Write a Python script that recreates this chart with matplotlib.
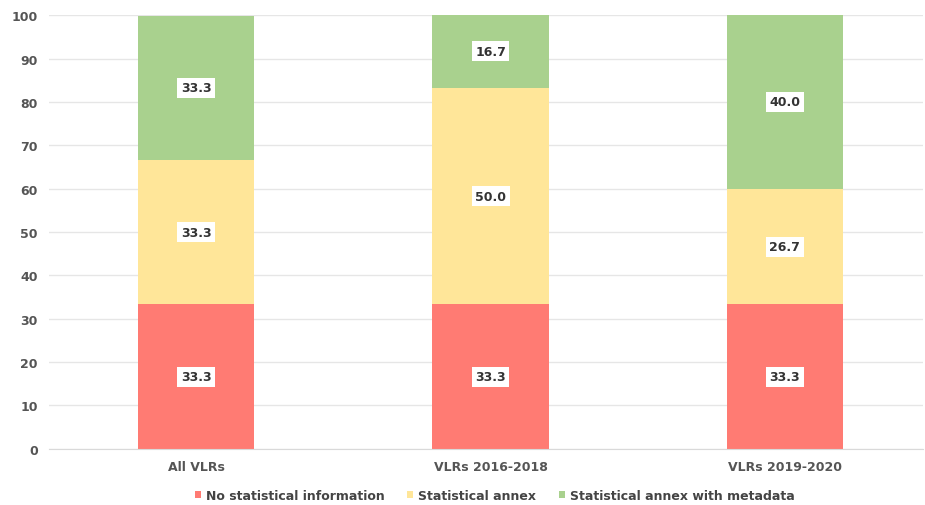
import numpy as np
import matplotlib.pyplot as plt

categories = ["All VLRs", "VLRs 2016-2018", "VLRs 2019-2020"]
no_info = [33.3, 33.3, 33.3]
annex = [33.3, 50.0, 26.7]
annex_meta = [33.3, 16.7, 40.0]
series_names = ["No statistical information", "Statistical annex", "Statistical annex with metadata"]
colors = ["#FF7B73", "#FFE699", "#A9D18E"]

fig = plt.figure(figsize=(9.25, 5.06), dpi=100)
ax = fig.add_axes([0.053, 0.111, 0.945, 0.857])

x = np.arange(len(categories))
bottom = np.zeros(len(categories))
for vals, name, col in zip([no_info, annex, annex_meta], series_names, colors):
    bars = ax.bar(x, vals, 0.395, bottom=bottom, color=col, label=name, zorder=2)
    for xi, b, v in zip(x, bottom, vals):
        ax.text(xi, b + v / 2, f"{v:.1f}", ha="center", va="center", fontsize=9,
                fontweight="bold", color="#333333", zorder=3,
                bbox=dict(facecolor="white", edgecolor="none", pad=2.5))
    bottom = bottom + np.array(vals)

ax.set_ylim(0, 100)
ax.set_xlim(-0.5, 2.47)
ax.set_yticks(range(0, 101, 10))
ax.set_xticks(x)
ax.set_xticklabels(categories)
ax.grid(axis="y", color="#E6E6E6", linewidth=1, zorder=0)
for s in ["top", "right", "left"]:
    ax.spines[s].set_visible(False)
ax.spines["bottom"].set_color("#D9D9D9")
ax.tick_params(axis="both", length=0, labelsize=9, labelcolor="#555555", pad=8)
for lab in ax.get_xticklabels() + ax.get_yticklabels():
    lab.set_fontweight("bold")

leg = ax.legend(loc="center", bbox_to_anchor=(0.51, -0.108), ncol=3, frameon=False,
                fontsize=9, handlelength=0.5, handleheight=0.5, handletextpad=0.4,
                columnspacing=1.8, borderpad=0)
for t in leg.get_texts():
    t.set_color("#444444")
    t.set_fontweight("bold")

fig.savefig("out.png", dpi=100)
